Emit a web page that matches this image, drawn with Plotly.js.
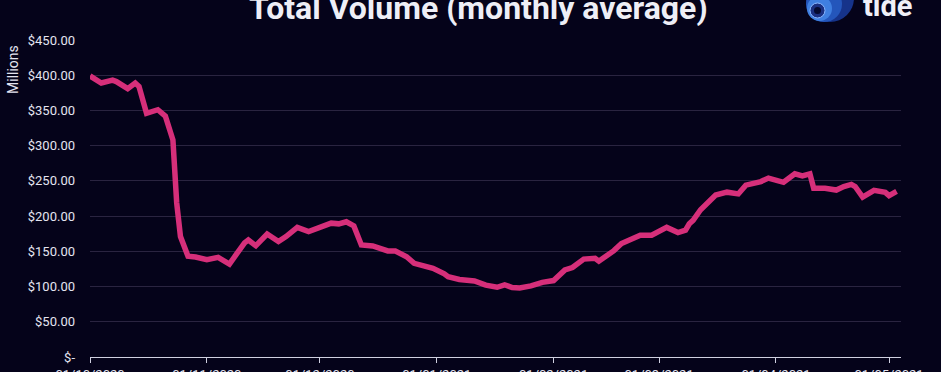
<!DOCTYPE html>
<html>
<head>
<meta charset="utf-8">
<script src="https://cdn.plot.ly/plotly-3.0.1.min.js"></script>
<style>
  html, body { margin: 0; padding: 0; background: #05031a; }
  #chart { width: 941px; height: 372px; }
</style>
</head>
<body>
<div id="chart"></div>
<script>
// Data (values in millions of dollars)
const dates = [
  '2020-10-01','2020-10-04','2020-10-07','2020-10-08','2020-10-11','2020-10-13','2020-10-14',
  '2020-10-16','2020-10-19','2020-10-21','2020-10-23','2020-10-24','2020-10-25','2020-10-27',
  '2020-10-29','2020-11-01','2020-11-04','2020-11-05','2020-11-07','2020-11-09','2020-11-11',
  '2020-11-12','2020-11-14','2020-11-17','2020-11-20','2020-11-22','2020-11-25','2020-11-28',
  '2020-12-01','2020-12-04','2020-12-06','2020-12-08','2020-12-10','2020-12-12','2020-12-15',
  '2020-12-17','2020-12-19','2020-12-21','2020-12-24','2020-12-26','2020-12-29','2020-12-31',
  '2021-01-03','2021-01-04','2021-01-07','2021-01-11','2021-01-14','2021-01-17','2021-01-19',
  '2021-01-21','2021-01-23','2021-01-26','2021-01-29','2021-02-01','2021-02-04','2021-02-06',
  '2021-02-09','2021-02-12','2021-02-13','2021-02-17','2021-02-19','2021-02-21','2021-02-24',
  '2021-02-27','2021-03-01','2021-03-03','2021-03-06','2021-03-08','2021-03-09','2021-03-10',
  '2021-03-12','2021-03-14','2021-03-16','2021-03-19','2021-03-22','2021-03-24','2021-03-26',
  '2021-03-28','2021-03-30','2021-04-01','2021-04-03','2021-04-06','2021-04-08','2021-04-10',
  '2021-04-11','2021-04-14','2021-04-17','2021-04-19','2021-04-21','2021-04-22','2021-04-24',
  '2021-04-27','2021-04-30','2021-05-01','2021-05-03'
];
const volume = [
  399, 389, 393, 391, 381, 389, 384,
  346, 351, 342, 308, 219, 171, 143,
  142, 138, 141.5, 139, 132, 147, 162,
  166, 158, 174.6, 164, 171, 184, 178,
  185, 190, 189, 192, 186, 159, 157.6,
  153, 150.5, 150.5, 142.4, 133, 129.7, 126,
  118, 114, 110, 108, 102, 99, 102.5,
  98.5, 98, 101, 106, 108.5, 123.5, 127,
  139, 140, 136, 151, 161, 165, 173,
  173, 179, 184, 176.6, 180, 189, 194,
  209, 219, 230, 234, 231.5, 244, 245.7,
  249, 254, 251.5, 248, 260, 257, 260,
  239.5, 239.5, 237, 242, 245, 242, 227,
  236.6, 233.7, 229, 235
];
const xTickVals = ['2020-10-01','2020-11-01','2020-12-01','2021-01-01','2021-02-01','2021-03-01','2021-04-01','2021-05-01'];
const yTickVals = [0, 50, 100, 150, 200, 250, 300, 350, 400, 450];
const yTickText = ['$-', '$50.00', '$100.00', '$150.00', '$200.00', '$250.00', '$300.00', '$350.00', '$400.00', '$450.00'];
const chartTitle = 'Total Volume (monthly average)';
const yTitle = 'Millions';
const brand = 'tide';

const trace = {
  x: dates,
  y: volume,
  type: 'scatter',
  mode: 'lines',
  line: { color: '#d62f7a', width: 5.5, shape: 'linear' },
  hoverinfo: 'skip'
};

const bg = '#05031a';
const px = (x) => (x - 90) / 811;
const py = (y) => (357 - y) / 317;
const layout = {
  width: 941,
  height: 372,
  paper_bgcolor: bg,
  plot_bgcolor: bg,
  margin: { l: 90, r: 40, t: 40, b: 15 },
  showlegend: false,
  font: { family: 'Roboto, "Open Sans", sans-serif', color: '#e4e4f0' },
  xaxis: {
    type: 'date',
    range: ['2020-10-01', '2021-05-04 04:00'],
    tickvals: xTickVals,
    tickformat: '%d/%m/%Y',
    ticks: 'outside',
    ticklen: 5,
    tickcolor: '#d0d0e0',
    tickwidth: 1,
    showline: true,
    linecolor: '#d0d0e0',
    linewidth: 1,
    showgrid: false,
    zeroline: false,
    tickfont: { size: 13, color: '#e4e4f0' }
  },
  yaxis: {
    range: [0, 450],
    tickvals: yTickVals,
    ticktext: yTickText,
    showgrid: true,
    gridcolor: '#2a2440',
    gridwidth: 1,
    zeroline: false,
    showline: false,
    ticks: '',
    ticklabelstandoff: 14,
    tickfont: { size: 13, color: '#e4e4f0' }
  },
  annotations: [
    {
      text: '<b>' + chartTitle + '</b>',
      xref: 'paper', yref: 'paper',
      x: px(478), y: py(8),
      xanchor: 'center', yanchor: 'middle',
      showarrow: false,
      font: { size: 32, color: '#eeeef6', family: 'Roboto, sans-serif' }
    },
    {
      text: yTitle,
      xref: 'paper', yref: 'paper',
      x: px(13), y: py(70),
      xanchor: 'center', yanchor: 'middle',
      textangle: -90,
      showarrow: false,
      font: { size: 14, color: '#e4e4f0' }
    },
    {
      text: '<b>' + brand + '</b>',
      xref: 'paper', yref: 'paper',
      x: px(887), y: py(6),
      xanchor: 'center', yanchor: 'middle',
      showarrow: false,
      font: { size: 29, color: '#f0f0f8', family: 'Roboto, sans-serif' }
    }
  ],
  shapes: [
    { type: 'circle', xref: 'paper', yref: 'paper', layer: 'above',
      x0: px(806), x1: px(854), y0: py(22), y1: py(-26),
      fillcolor: '#16338a', line: { width: 0 } },
    { type: 'circle', xref: 'paper', yref: 'paper', layer: 'above',
      x0: px(806), x1: px(842), y0: py(22), y1: py(-14),
      fillcolor: '#2456bb', line: { width: 0 } },
    { type: 'circle', xref: 'paper', yref: 'paper', layer: 'above',
      x0: px(807), x1: px(832), y0: py(21), y1: py(-4),
      fillcolor: '#3f7fe0', line: { width: 0 } },
    { type: 'circle', xref: 'paper', yref: 'paper', layer: 'above',
      x0: px(810), x1: px(825), y0: py(18), y1: py(3),
      fillcolor: '#1a2f80', line: { color: '#8cb8ff', width: 1 } },
    { type: 'circle', xref: 'paper', yref: 'paper', layer: 'above',
      x0: px(814), x1: px(821), y0: py(14), y1: py(7),
      fillcolor: '#050a30', line: { width: 0 } }
  ]
};

Plotly.newPlot('chart', [trace], layout, { displayModeBar: false, staticPlot: true });
</script>
</body>
</html>
